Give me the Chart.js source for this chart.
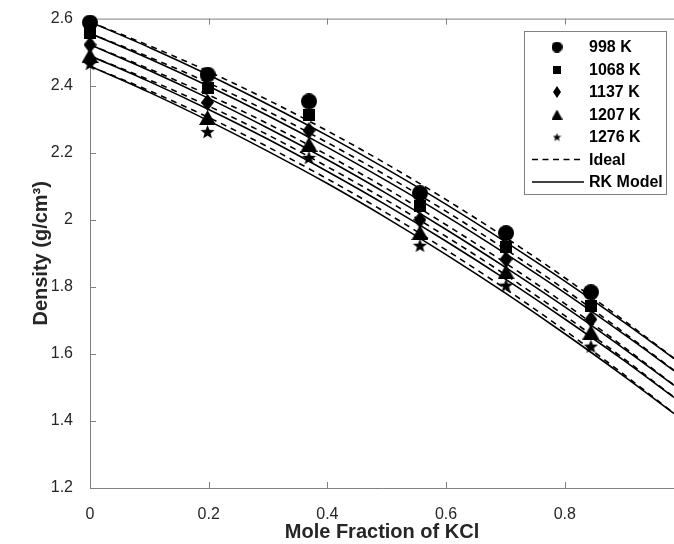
<!DOCTYPE html>
<html>
<head>
<meta charset="utf-8">
<script src="https://cdn.jsdelivr.net/npm/chart.js@4.4.0/dist/chart.umd.min.js"></script>
<style>
    html, body { margin: 0; padding: 0; background: #fff; overflow: hidden; }
</style>
</head>
<body>
<canvas id="myChart" width="674" height="544"></canvas>
<script>
// measured points (mole fraction KCl vs density)
const temps = ["998 K", "1068 K", "1137 K", "1207 K", "1276 K"];
const moleFrac = [0, 0.198, 0.369, 0.556, 0.701, 0.844];
const dens998  = [2.588, 2.433, 2.353, 2.079, 1.960, 1.784];
const dens1068 = [2.556, 2.392, 2.312, 2.040, 1.920, 1.744];
const dens1137 = [2.522, 2.350, 2.266, 2.000, 1.882, 1.703];
const dens1207 = [2.490, 2.305, 2.225, 1.962, 1.845, 1.665];
const dens1276 = [2.466, 2.263, 2.186, 1.924, 1.805, 1.623];

// model curves
const curveX = [0, 0.1, 0.2, 0.3, 0.4, 0.5, 0.6, 0.7, 0.8, 0.9, 0.984];
const ideal998  = [2.590, 2.519, 2.442, 2.357, 2.265, 2.166, 2.060, 1.947, 1.827, 1.699, 1.587];
const ideal1068 = [2.556, 2.485, 2.408, 2.323, 2.230, 2.131, 2.025, 1.912, 1.792, 1.663, 1.551];
const ideal1137 = [2.522, 2.450, 2.372, 2.286, 2.193, 2.093, 1.985, 1.871, 1.750, 1.620, 1.507];
const ideal1207 = [2.489, 2.417, 2.339, 2.253, 2.158, 2.058, 1.950, 1.836, 1.714, 1.585, 1.471];
const ideal1276 = [2.458, 2.385, 2.305, 2.217, 2.122, 2.020, 1.910, 1.794, 1.670, 1.538, 1.423];
const rk998  = [2.590, 2.514, 2.432, 2.344, 2.251, 2.151, 2.046, 1.934, 1.817, 1.694, 1.586];
const rk1068 = [2.556, 2.480, 2.398, 2.310, 2.216, 2.116, 2.011, 1.899, 1.782, 1.658, 1.550];
const rk1137 = [2.522, 2.445, 2.362, 2.273, 2.179, 2.078, 1.971, 1.858, 1.740, 1.615, 1.506];
const rk1207 = [2.489, 2.412, 2.329, 2.240, 2.144, 2.043, 1.936, 1.823, 1.704, 1.580, 1.470];
const rk1276 = [2.458, 2.380, 2.295, 2.204, 2.108, 2.005, 1.896, 1.781, 1.660, 1.533, 1.422];

const yTicks = [1.2, 1.4, 1.6, 1.8, 2, 2.2, 2.4, 2.6];
const yTickLabels = ["1.2", "1.4", "1.6", "1.8", "2", "2.2", "2.4", "2.6"];

const measured = [dens998, dens1068, dens1137, dens1207, dens1276];
const ideal = [ideal998, ideal1068, ideal1137, ideal1207, ideal1276];
const rk = [rk998, rk1068, rk1137, rk1207, rk1276];

// marker images
function shapeCanvas(w, h, pts) {
    const c = document.createElement("canvas");
    c.width = w; c.height = h;
    const g = c.getContext("2d");
    g.fillStyle = "#000";
    g.beginPath();
    pts.forEach(p => g.lineTo(p[0], p[1]));
    g.closePath();
    g.fill();
    return c;
}
function circleImg(d) {
    const c = document.createElement("canvas");
    c.width = c.height = d;
    const g = c.getContext("2d");
    g.fillStyle = "#000";
    g.beginPath();
    g.arc(d / 2, d / 2, d / 2, 0, Math.PI * 2);
    g.fill();
    return c;
}
function squareImg(s) { return shapeCanvas(s, s, [[0, 0], [s, 0], [s, s], [0, s]]); }
function diamondImg(w, h) { return shapeCanvas(w, h, [[w / 2, 0], [w, h / 2], [w / 2, h], [0, h / 2]]); }
function triangleImg(w, h) { return shapeCanvas(w, h, [[w / 2, 0], [w, h], [0, h]]); }
function starImg(s) {
    const pts = [];
    const R = s / 2, r = R * 0.42, cx = s / 2, cy = s / 2 + s * 0.05;
    for (let k = 0; k < 10; k++) {
        const a = -Math.PI / 2 + k * Math.PI / 5;
        const rad = k % 2 ? r : R;
        pts.push([cx + rad * Math.cos(a), cy + rad * Math.sin(a)]);
    }
    return shapeCanvas(s, s, pts);
}

const markers = [circleImg(16), squareImg(12), diamondImg(13, 17), triangleImg(17, 15), starImg(15)];
const legendMarkers = [circleImg(11), squareImg(8), diamondImg(8, 12), triangleImg(11, 10), starImg(9)];

const datasets = [];
measured.forEach((vals, i) => {
    datasets.push({
        label: temps[i],
        data: moleFrac.map((x, k) => ({ x: x, y: vals[k] })),
        showLine: false,
        pointStyle: markers[i],
        pointRadius: 8,
        clip: false,
        order: 0
    });
});
ideal.forEach((vals, i) => {
    datasets.push({
        label: "Ideal " + temps[i],
        data: curveX.map((x, k) => ({ x: x, y: vals[k] })),
        showLine: true,
        borderColor: "#000",
        borderWidth: 1.6,
        borderDash: [6, 5],
        pointRadius: 0,
        cubicInterpolationMode: "monotone",
        order: 1
    });
});
rk.forEach((vals, i) => {
    datasets.push({
        label: "RK " + temps[i],
        data: curveX.map((x, k) => ({ x: x, y: vals[k] })),
        showLine: true,
        borderColor: "#000",
        borderWidth: 1.6,
        pointRadius: 0,
        cubicInterpolationMode: "monotone",
        order: 1
    });
});

const axisColor = "#808080";

const frame = {
    id: "frame",
    beforeDatasetsDraw(chart) {
        const { ctx, chartArea: a, scales: { x, y } } = chart;
        ctx.save();
        ctx.strokeStyle = axisColor;
        ctx.lineWidth = 1;
        ctx.beginPath();
        ctx.moveTo(a.left, a.top + 0.5);
        ctx.lineTo(a.right, a.top + 0.5);
        x.ticks.forEach(t => {
            const px = Math.round(x.getPixelForValue(t.value)) + 0.5;
            ctx.moveTo(px, a.bottom);
            ctx.lineTo(px, a.bottom - 6);
            ctx.moveTo(px, a.top);
            ctx.lineTo(px, a.top + 6);
        });
        y.ticks.forEach(t => {
            const py = Math.round(y.getPixelForValue(t.value)) + 0.5;
            ctx.moveTo(a.left, py);
            ctx.lineTo(a.left + 6, py);
        });
        ctx.stroke();
        ctx.restore();
    },
    afterDraw(chart) {
        const ctx = chart.ctx;
        const bx = 524.5, by = 31.5, bw = 142, bh = 163;
        ctx.save();
        ctx.fillStyle = "#fff";
        ctx.fillRect(bx, by, bw, bh);
        ctx.strokeStyle = axisColor;
        ctx.lineWidth = 1;
        ctx.strokeRect(bx, by, bw, bh);

        const rows = [47, 69.5, 92, 114.5, 137, 159.5, 182];
        ctx.font = "bold 16px 'Liberation Sans', Arial, sans-serif";
        ctx.fillStyle = "#000";
        ctx.textBaseline = "middle";
        legendMarkers.forEach((m, i) => {
            ctx.drawImage(m, 557 - m.width / 2, rows[i] - m.height / 2);
            ctx.fillText(temps[i], 589, rows[i] + 1);
        });
        ctx.strokeStyle = "#000";
        ctx.lineWidth = 1.5;
        ctx.setLineDash([6, 4.5]);
        ctx.beginPath();
        ctx.moveTo(532, rows[5]);
        ctx.lineTo(584, rows[5]);
        ctx.stroke();
        ctx.setLineDash([]);
        ctx.beginPath();
        ctx.moveTo(532, rows[6]);
        ctx.lineTo(584, rows[6]);
        ctx.stroke();
        ctx.fillText("Ideal", 589, rows[5] + 1);
        ctx.fillText("RK Model", 589, rows[6] + 1);
        ctx.restore();
    }
};

const ctx = document.getElementById("myChart").getContext("2d");
new Chart(ctx, {
    type: "scatter",
    data: { datasets: datasets },
    options: {
        responsive: false,
        animation: false,
        layout: { autoPadding: false, padding: { top: 18, left: 0, right: 0, bottom: 0 } },
        plugins: {
            legend: { display: false },
            tooltip: { enabled: false }
        },
        scales: {
            x: {
                type: "linear",
                min: 0,
                max: 0.984,
                afterFit: s => { s.height = 56; },
                grid: { display: false },
                border: { color: axisColor, width: 1 },
                ticks: {
                    stepSize: 0.2,
                    includeBounds: false,
                    maxRotation: 0,
                    padding: 9,
                    color: "#262626",
                    font: { family: "'Liberation Sans', Arial, sans-serif", size: 16 }
                },
                title: {
                    display: true,
                    text: "Mole Fraction of KCl",
                    color: "#262626",
                    padding: { top: 0, bottom: 0 },
                    font: { family: "'Liberation Sans', Arial, sans-serif", size: 20, weight: "bold" }
                }
            },
            y: {
                type: "linear",
                min: 1.2,
                max: 2.6,
                afterFit: s => { s.width = 90; },
                afterBuildTicks: s => { s.ticks = yTicks.map(v => ({ value: v })); },
                grid: { display: false },
                border: { color: axisColor, width: 1 },
                ticks: {
                    padding: 9,
                    color: "#262626",
                    callback: (v, i) => yTickLabels[i],
                    font: { family: "'Liberation Sans', Arial, sans-serif", size: 16 }
                },
                title: {
                    display: true,
                    text: "Density (g/cm³)",
                    color: "#262626",
                    padding: { top: 29, bottom: 0 },
                    font: { family: "'Liberation Sans', Arial, sans-serif", size: 20, weight: "bold" }
                }
            }
        }
    },
    plugins: [frame]
});
</script>
</body>
</html>
